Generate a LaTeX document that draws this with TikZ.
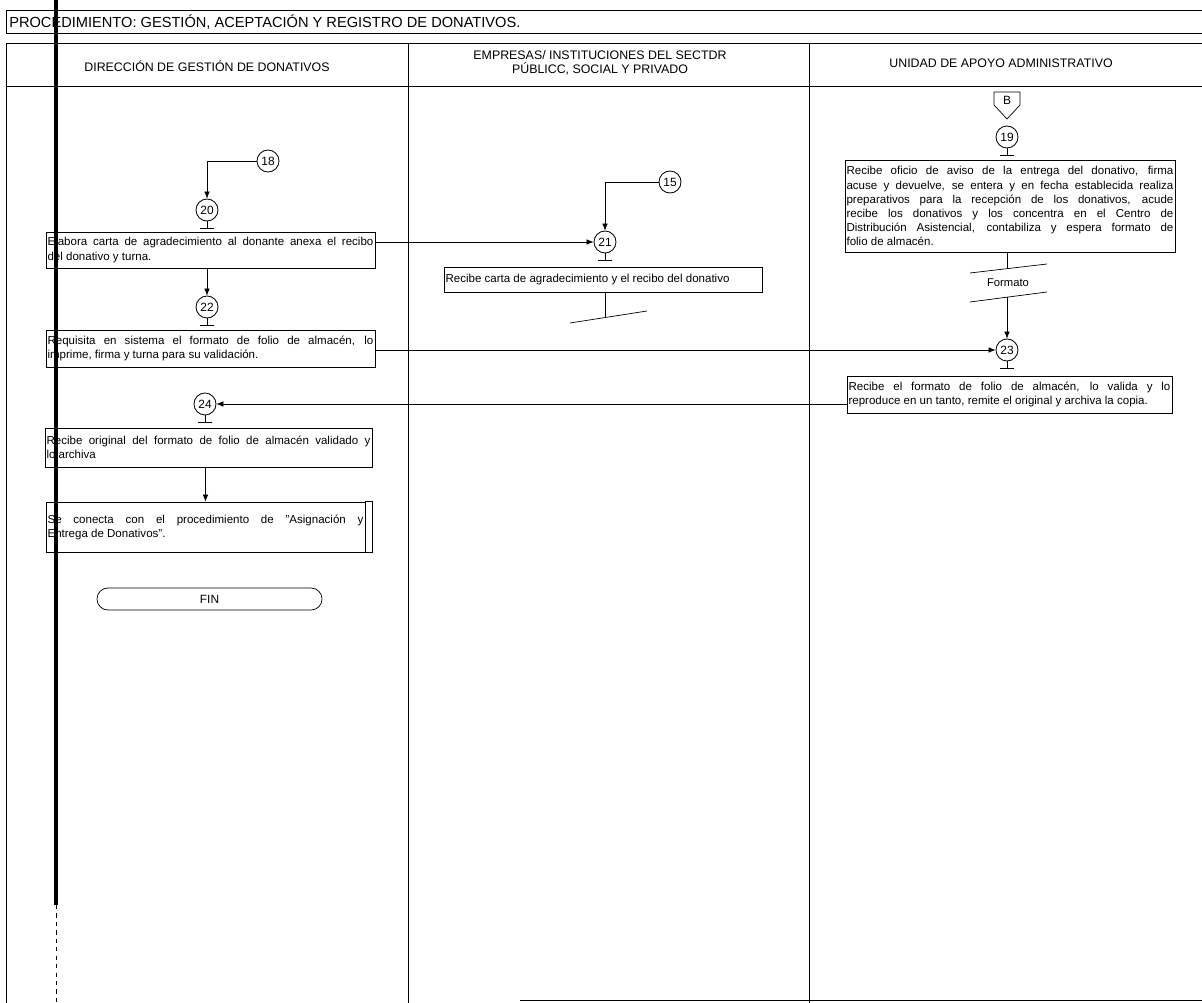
\documentclass[tikz,border=0pt]{standalone}
\usepackage{fontspec}
\setmainfont{Liberation Sans}
\usepackage{tikz}
\usetikzlibrary{arrows.meta, positioning, calc}

\tikzset{
    conector/.style={circle, draw, line width=0.6pt, minimum size=0.55cm, inner sep=0pt, font=\fontsize{8.5}{8.5}\selectfont},
    actividad/.style={draw, line width=0.5pt, inner sep=0.04cm, align=justify, font=\fontsize{8.2}{10}\selectfont},
    flujo/.style={-{Latex[length=5pt,width=4pt]}, line width=0.5pt},
    linea/.style={line width=0.5pt},
    marco/.style={line width=0.7pt},
    encabezado/.style={font=\fontsize{8.8}{10}\selectfont, align=center}
}

\begin{document}
\begin{tikzpicture}[x=0.025cm, y=-0.025cm]
    \useasboundingbox (0,0) rectangle (1202,1003);

    \draw[marco] (1202,10) -- (6,10) -- (6,33) -- (1202,33);
    \node[anchor=west, inner sep=0pt, font=\fontsize{10.4}{11}\selectfont] (titulo) at (9,22) {PROCEDIMIENTO: GESTIÓN, ACEPTACIÓN Y REGISTRO DE DONATIVOS.};

    \draw[marco] (1202,43) -- (6,43) -- (6,1003);
    \draw[marco] (6,86) -- (1202,86);
    \draw[marco] (408,43) -- (408,1003);
    \draw[marco] (809,43) -- (809,1003);
    \draw[marco] (520,1000) -- (1202,1000);
    \draw[line width=2.2pt] (56,0) -- (56,905);
    \draw[linea, dashed] (56,905) -- (56,1003);

    \node[encabezado] (direccion) at (207,66) {DIRECCIÓN DE GESTIÓN DE DONATIVOS};
    \node[encabezado] (empresas) at (600,63) {EMPRESAS/ INSTITUCIONES DEL SECTDR\\PÚBLICC, SOCIAL Y PRIVADO};
    \node[encabezado] (unidad) at (1001,63) {UNIDAD DE APOYO ADMINISTRATIVO};

    \node[conector] (c18) at (268,161) {18};
    \node[conector] (c20) at (207,210) {20};
    \node[actividad, text width=8.145cm, minimum height=0.9cm] (act20) at (210.5,250) {Elabora carta de agradecimiento al donante anexa el recibo\linebreak del donativo y turna.};
    \node[conector] (c22) at (207,307) {22};
    \node[actividad, text width=8.145cm, minimum height=0.925cm] (act22) at (210.5,348.5) {Requisita en sistema el formato de folio de almacén, lo\linebreak imprime, firma y turna para su validación.};
    \node[conector] (c24) at (205,404) {24};
    \node[actividad, text width=8.095cm, minimum height=0.975cm] (act24) at (208.5,447.5) {Recibe original del formato de folio de almacén validado y\linebreak lo archiva};
    \node[actividad, text width=7.895cm, minimum height=1.25cm] (conexion) at (205.5,527) {Se conecta con el procedimiento de "Asignación y\linebreak Entrega de Donativos".};
    \draw[linea] (conexion.north east) rectangle ($(conexion.south east)+(7,0)$);
    \node[draw, line width=0.5pt, rounded corners=0.275cm, minimum width=5.625cm, minimum height=0.55cm, font=\fontsize{8.5}{8.5}\selectfont] (fin) at (209.5,599) {FIN};

    \node[conector] (c15) at (670,182) {15};
    \node[conector] (c21) at (605,242) {21};
    \node[actividad, text width=7.87cm, minimum height=0.625cm] (act21) at (603,279.5) {Recibe carta de agradecimiento y el recibo del donativo};
    \coordinate (corte) at (605,317);
    \coordinate (corteizq) at (570,323);
    \coordinate (corteder) at (647,311);

    \draw[linea] (1007,119) -- (994,105) -- (994,92) -- (1020,92) -- (1020,105) -- cycle;
    \node[font=\fontsize{8.5}{8.5}\selectfont] (b) at (1007,100) {B};
    \node[conector] (c19) at (1007,137) {19};
    \node[actividad, text width=8.17cm, minimum height=2.3cm] (act19) at (1010,206) {Recibe oficio de aviso de la entrega del donativo, firma\linebreak acuse y devuelve, se entera y en fecha establecida realiza\linebreak preparativos para la recepción de los donativos, acude\linebreak recibe los donativos y los concentra en el Centro de\linebreak Distribución Asistencial, contabiliza y espera formato de\linebreak folio de almacén.};
    \node[font=\fontsize{8}{8}\selectfont] (formato) at (1008,283) {Formato};
    \coordinate (formatoarriba) at (1007,269);
    \coordinate (formatoabajo) at (1007,297);
    \node[conector] (c23) at (1007,350) {23};
    \node[actividad, text width=8.045cm, minimum height=0.925cm] (act23) at (1009.5,394.5) {Recibe el formato de folio de almacén, lo valida y lo\linebreak reproduce en un tanto, remite el original y archiva la copia.};

    \foreach \c in {c20, c22, c24, c21, c19, c23}
        \draw[linea] (\c.south) -- ++(0,7) ++(-7,0) -- ++(14,0);

    \draw[flujo] (c18.west) -| (c20.north);
    \draw[flujo] (act20.south -| c22) -- (c22.north);
    \draw[flujo] (act20.east |- c21) -- (c21.west);
    \draw[flujo] (c15.west) -| (c21.north);
    \draw[linea] (act21.south -| corte) -- (corte);
    \draw[linea] (corteizq) -- (corteder);
    \draw[flujo] (act22.east |- c23) -- (c23.west);
    \draw[linea] (act19.south -| formatoarriba) -- (formatoarriba);
    \draw[linea] (970,273) -- (1047,264);
    \draw[linea] (970,302) -- (1047,292);
    \draw[flujo] (formatoabajo) -- (c23.north);
    \draw[flujo] (act23.west |- c24) -- (c24.east);
    \draw[flujo] (act24.south -| conexion.north) -- (conexion.north);
\end{tikzpicture}
\end{document}
